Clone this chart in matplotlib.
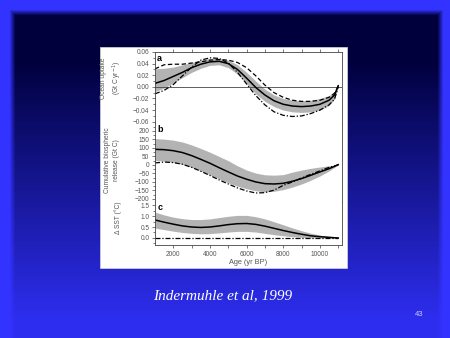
import numpy as np
import matplotlib
matplotlib.use("Agg")
import matplotlib.pyplot as plt
from matplotlib.patches import Rectangle
from matplotlib.ticker import MultipleLocator, FixedLocator

plt.rcParams['font.family'] = ['Liberation Sans', 'DejaVu Sans']

# age axis (yr BP)
years = [1000, 1500, 2000, 2500, 3000, 3500, 4000, 4500, 5000, 5500, 6000,
         6500, 7000, 7500, 8000, 8500, 9000, 9500, 10000, 10500, 10800, 11000]

# a: ocean uptake (Gt C / yr)
uptake_mean = [0.006, 0.011, 0.018, 0.025, 0.033, 0.039, 0.043, 0.044, 0.040, 0.030, 0.015,
               -0.001, -0.014, -0.024, -0.030, -0.033, -0.034, -0.033, -0.030, -0.023, -0.014, 0.002]
uptake_hi = [0.031, 0.032, 0.034, 0.038, 0.042, 0.046, 0.049, 0.049, 0.046, 0.038, 0.025,
             0.010, -0.004, -0.014, -0.020, -0.023, -0.024, -0.023, -0.020, -0.015, -0.008, 0.003]
uptake_lo = [-0.008, -0.002, 0.007, 0.016, 0.025, 0.032, 0.037, 0.038, 0.033, 0.022, 0.006,
             -0.012, -0.025, -0.034, -0.040, -0.043, -0.044, -0.043, -0.040, -0.032, -0.021, 0.000]
uptake_dash = [0.031, 0.038, 0.039, 0.039, 0.041, 0.043, 0.046, 0.047, 0.046, 0.042, 0.033,
               0.019, 0.003, -0.010, -0.018, -0.023, -0.025, -0.025, -0.023, -0.018, -0.011, 0.001]
uptake_dashdot = [-0.012, -0.006, 0.004, 0.019, 0.034, 0.046, 0.050, 0.049, 0.041, 0.025, 0.005,
                  -0.015, -0.031, -0.043, -0.049, -0.051, -0.050, -0.046, -0.040, -0.031, -0.021, 0.000]

# b: cumulative biospheric release (Gt C)
bio_mean = [92, 90, 84, 73, 55, 33, 10, -16, -41, -65, -84,
            -100, -110, -112, -108, -96, -80, -61, -41, -22, -8, 2]
bio_hi = [155, 152, 146, 135, 118, 97, 75, 50, 25, -5, -30,
          -48, -58, -60, -57, -42, -30, -20, -12, -5, -2, 2]
bio_lo = [27, 22, 15, 4, -14, -35, -58, -82, -105, -125, -140,
          -152, -158, -155, -145, -130, -112, -90, -65, -35, -14, 0]
bio_dashdot = [12, 17, 14, 4, -14, -37, -62, -88, -112, -135, -153,
               -165, -163, -148, -120, -100, -77, -55, -35, -14, -5, 0]

# c: sea surface temperature change (deg C)
sst_mean = [0.82, 0.72, 0.63, 0.55, 0.50, 0.48, 0.50, 0.55, 0.61, 0.65, 0.66,
            0.62, 0.54, 0.44, 0.34, 0.25, 0.17, 0.10, 0.06, 0.03, 0.01, 0.0]
sst_hi = [1.18, 1.05, 0.95, 0.88, 0.84, 0.84, 0.87, 0.93, 0.99, 1.03, 1.03,
          0.97, 0.87, 0.74, 0.60, 0.46, 0.33, 0.22, 0.13, 0.06, 0.02, 0.0]
sst_lo = [0.45, 0.38, 0.31, 0.25, 0.21, 0.19, 0.20, 0.23, 0.27, 0.30, 0.30,
          0.27, 0.21, 0.15, 0.10, 0.06, 0.03, 0.01, 0.0, 0.0, 0.0, 0.0]
sst_dashdot = [0.0, 0.0, 0.0, 0.0, 0.0, 0.0, 0.0, 0.0, 0.0, 0.0, 0.0,
               0.0, 0.0, 0.0, 0.0, 0.0, 0.0, 0.0, 0.0, 0.0, 0.0, 0.0]

W, H = 450, 338
fig = plt.figure(figsize=(W / 100, H / 100), dpi=100)


def box(l, t, r, b):
    return [l / W, 1 - b / H, (r - l) / W, (b - t) / H]


# slide background: bright blue frame, dark-to-blue inner gradient
yy = np.arange(H)[:, None]
xx = np.arange(W)[None, :]
frame = np.array([0.20, 0.20, 1.0])
dark = np.array([0.0, 0.0, 0.24])
light = np.array([0.18, 0.18, 0.94])
t = np.clip((yy - 60) / 260.0, 0, 1)[..., None]
inner = dark * (1 - t) + light * t
m = np.clip(np.minimum.reduce([xx - 9 + 0 * yy, 443 - xx + 0 * yy, yy - 9 + 0 * xx]) / 6.0, 0, 1)[..., None]
img = frame * (1 - m) + inner * m
bg = fig.add_axes([0, 0, 1, 1], zorder=-10)
bg.imshow(img, aspect='auto', interpolation='bilinear')
bg.axis('off')

fig.add_artist(Rectangle((100 / W, 1 - 268 / H), 247 / W, 221 / H, transform=fig.transFigure,
                         facecolor='white', edgecolor='#d8d8d8', lw=0.5, zorder=-5))

ax_a = fig.add_axes(box(155, 52, 341.7, 123))
ax_b = fig.add_axes(box(155, 123, 341.7, 202))
ax_c = fig.add_axes(box(155, 202, 341.7, 245))

band = '#b3b3b3'
dash = (0, (3.5, 2))
dashdot = (0, (4, 1.5, 1, 1.5))
txt = '#555555'

ax_a.fill_between(years, uptake_lo, uptake_hi, color=band, lw=0)
ax_a.axhline(0, color='#444444', lw=0.6)
ax_a.plot(years, uptake_dash, color='k', lw=0.9, linestyle=dash)
ax_a.plot(years, uptake_dashdot, color='k', lw=0.9, linestyle=dashdot)
ax_a.plot(years, uptake_mean, color='k', lw=1.1)
ax_a.set_ylim(-0.0622, 0.06)
ax_a.yaxis.set_major_locator(FixedLocator([-0.06, -0.04, -0.02, 0.0, 0.02, 0.04, 0.06]))
ax_a.yaxis.set_minor_locator(MultipleLocator(0.01))
ax_a.yaxis.set_major_formatter(lambda v, p: f"{v:.2f}".replace('-', '\u2212'))

ax_b.fill_between(years, bio_lo, bio_hi, color=band, lw=0)
ax_b.plot(years, bio_dashdot, color='k', lw=0.9, linestyle=dashdot)
ax_b.plot(years, bio_mean, color='k', lw=1.1)
ax_b.set_ylim(-218, 247)
ax_b.yaxis.set_major_locator(FixedLocator(np.arange(-200, 201, 50)))
ax_b.yaxis.set_minor_locator(MultipleLocator(25))

ax_c.fill_between(years, sst_lo, sst_hi, color=band, lw=0)
ax_c.plot(years, sst_dashdot, color='k', lw=0.9, linestyle=dashdot)
ax_c.plot(years, sst_mean, color='k', lw=1.1)
ax_c.set_ylim(-0.32, 1.64)
ax_c.yaxis.set_major_locator(FixedLocator([0.0, 0.5, 1.0, 1.5]))
ax_c.yaxis.set_minor_locator(MultipleLocator(0.25))
ax_c.yaxis.set_major_formatter(lambda v, p: f"{v:.1f}")

xt = np.arange(2000, 11001, 1000)
for ax, letter in ((ax_a, 'a'), (ax_b, 'b'), (ax_c, 'c')):
    ax.set_facecolor('none')
    ax.set_xlim(1000, 11190)
    for s in ax.spines.values():
        s.set_color('#444444')
        s.set_linewidth(0.6)
    ax.tick_params(axis='y', which='major', length=2.5, width=0.5, pad=1.5,
                   labelsize=4.7, labelcolor=txt, color='#444444')
    ax.tick_params(axis='y', which='minor', length=1.5, width=0.5, color='#444444')
    ax.text(0.012, 0.97, letter, transform=ax.transAxes, fontsize=6.5,
            fontweight='bold', va='top', ha='left')
    ax.set_xticks(xt)

ax_a.spines['bottom'].set_visible(False)
ax_b.spines['top'].set_visible(False)
ax_b.spines['bottom'].set_visible(False)
ax_c.spines['top'].set_visible(False)

ax_a.tick_params(axis='x', top=True, bottom=False, labelbottom=False, length=2.5,
                 width=0.5, color='#444444')
ax_b.tick_params(axis='x', bottom=False, labelbottom=False)
ax_c.set_xticklabels([str(v) if v % 2000 == 0 else '' for v in xt])
ax_c.tick_params(axis='x', length=2.5, width=0.5, pad=2, labelsize=4.7,
                 labelcolor=txt, color='#444444')

fig.text(248 / W, 1 - 262 / H, 'Age (yr BP)', fontsize=5.3, color=txt, ha='center', va='center')
fig.text(112 / W, 1 - 78 / H, 'Ocean uptake\n(Gt C yr$^{-1}$)', rotation=90, fontsize=4.8,
         color=txt, ha='center', va='center', linespacing=1.5)
fig.text(112 / W, 1 - 160 / H, 'Cumulative biospheric\nrelease (Gt C)', rotation=90,
         fontsize=4.8, color=txt, ha='center', va='center', linespacing=1.5)
fig.text(118 / W, 1 - 218 / H, '\u0394 SST (\u00b0C)', rotation=90, fontsize=4.8,
         color=txt, ha='center', va='center')

fig.text(223 / W, 1 - 296 / H, 'Indermuhle et al, 1999', family='Liberation Serif',
         style='italic', fontsize=11, color='white', ha='center', va='center')
fig.text(419 / W, 1 - 315 / H, '43', fontsize=5.5, color='#c8ccff', ha='center', va='center')

fig.savefig('out.png', dpi=100)
